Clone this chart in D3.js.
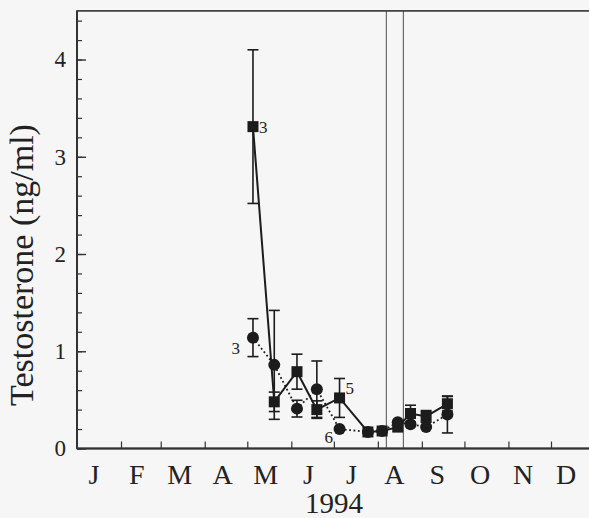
<!DOCTYPE html>
<html>
<head>
<meta charset="utf-8">
<script src="https://cdn.jsdelivr.net/npm/d3@7"></script>
<style>
  html, body { margin: 0; padding: 0; background: #f6f6f6; }
  svg { display: block; }
  svg text { font-family: "Liberation Serif", "Times New Roman", serif; fill: #222; }
</style>
</head>
<body>
<svg id="chart" width="589" height="518"></svg>
<script>
// sampling dates (1994) and testosterone means / errors
const sampleDates = ["1994-05-05", "1994-05-20", "1994-06-05", "1994-06-19", "1994-07-05",
  "1994-07-25", "1994-08-04", "1994-08-15", "1994-08-24", "1994-09-04", "1994-09-19"];
const squareMeans = [3.31, 0.48, 0.79, 0.40, 0.52, 0.17, 0.18, 0.22, 0.36, 0.33, 0.46];
const squareErrs  = [0.79, 0.10, 0.18, 0.09, 0.20, 0, 0, 0, 0.085, 0.06, 0.075];
const circleMeans = [1.14, 0.86, 0.41, 0.61, 0.20, 0.17, 0.18, 0.27, 0.25, 0.22, 0.35];
const circleErrs  = [0.195, 0.56, 0.086, 0.29, 0, 0, 0, 0, 0, 0, 0.19];
const markerDates = ["1994-08-07", "1994-08-19"];
const monthLabels = ["J", "F", "M", "A", "M", "J", "J", "A", "S", "O", "N", "D"];
const yLabelTicks = [0, 1, 2, 3, 4];
const pointLabels = [
  { series: "square", i: 0, text: "3" },
  { series: "circle", i: 0, text: "3" },
  { series: "square", i: 4, text: "5" },
  { series: "circle", i: 4, text: "6" }
];

const ink = "#1c1c1c";
const serif = "Liberation Serif, Times New Roman, serif";
const parse = d3.timeParse("%Y-%m-%d");
const svg = d3.select("#chart");

const x = d3.scaleTime()
  .domain([new Date(1994, 0, 1), new Date(1995, 0, 1)])
  .range([77, 595]);
const y = d3.scaleLinear().domain([0, 4.5]).range([448.5, 10.9]);

const squares = sampleDates.map((d, i) => ({ date: parse(d), v: squareMeans[i], e: squareErrs[i] }));
const circles = sampleDates.map((d, i) => ({ date: parse(d), v: circleMeans[i], e: circleErrs[i] }));

// vertical marker lines
svg.selectAll("line.marker")
  .data(markerDates.map(parse))
  .enter().append("line")
  .attr("x1", d => x(d)).attr("x2", d => x(d))
  .attr("y1", y(4.5)).attr("y2", y(0))
  .style("stroke", "#6a6a6a").style("stroke-width", 1.2);

// error bars
function errorBars(data, cls) {
  const g = svg.append("g").attr("class", cls)
    .selectAll("g").data(data.filter(d => d.e > 0)).enter().append("g");
  g.append("line")
    .attr("x1", d => x(d.date)).attr("x2", d => x(d.date))
    .attr("y1", d => y(d.v - d.e)).attr("y2", d => y(d.v + d.e));
  [-1, 1].forEach(s => {
    g.append("line")
      .attr("x1", d => x(d.date) - 5.5).attr("x2", d => x(d.date) + 5.5)
      .attr("y1", d => y(d.v + s * d.e)).attr("y2", d => y(d.v + s * d.e));
  });
  g.selectAll("line").style("stroke", ink).style("stroke-width", 1.6);
}
errorBars(circles, "circleErr");
errorBars(squares, "squareErr");

const line = d3.line().x(d => x(d.date)).y(d => y(d.v));

svg.append("path").datum(circles)
  .attr("d", line)
  .style("fill", "none").style("stroke", ink)
  .style("stroke-width", 1.8).style("stroke-dasharray", "1.8,2.6");

svg.append("path").datum(squares)
  .attr("d", line)
  .style("fill", "none").style("stroke", ink).style("stroke-width", 2);

svg.selectAll("circle.pt").data(circles).enter().append("circle")
  .attr("class", "pt")
  .attr("cx", d => x(d.date)).attr("cy", d => y(d.v)).attr("r", 6)
  .style("fill", ink);

svg.selectAll("rect.pt").data(squares).enter().append("rect")
  .attr("class", "pt")
  .attr("x", d => x(d.date) - 5.5).attr("y", d => y(d.v) - 5.5)
  .attr("width", 11).attr("height", 11)
  .style("fill", ink);

// small n labels next to points
const labelOffsets = {
  "square0": { dx: 6, dy: 6, anchor: "start" },
  "circle0": { dx: -13, dy: 16, anchor: "end" },
  "square4": { dx: 6, dy: -4, anchor: "start" },
  "circle4": { dx: -6.5, dy: 14, anchor: "end" }
};
svg.selectAll("text.n").data(pointLabels).enter().append("text")
  .attr("class", "n")
  .attr("x", d => {
    const p = (d.series === "square" ? squares : circles)[d.i];
    return x(p.date) + labelOffsets[d.series + d.i].dx;
  })
  .attr("y", d => {
    const p = (d.series === "square" ? squares : circles)[d.i];
    return y(p.v) + labelOffsets[d.series + d.i].dy;
  })
  .attr("text-anchor", d => labelOffsets[d.series + d.i].anchor)
  .attr("font-family", serif)
  .style("font-size", "17px")
  .text(d => d.text);

// y axis: minor and major ticks inside
const yMinor = svg.append("g").attr("transform", "translate(77,0)")
  .call(d3.axisLeft(y).tickValues(d3.range(0, 4.41, 0.2)).tickSize(-5).tickFormat(""));
yMinor.select(".domain").remove();
yMinor.selectAll("line").style("stroke", "#333").style("stroke-width", 1.2);

const yMajor = svg.append("g").attr("transform", "translate(77,0)")
  .call(d3.axisLeft(y).tickValues(yLabelTicks).tickSize(-9).tickPadding(11).tickFormat(d3.format("d")));
yMajor.attr("font-family", serif).attr("font-size", 23);
yMajor.select(".domain").remove();
yMajor.selectAll("line").style("stroke", "#333").style("stroke-width", 1.4);
yMajor.selectAll("text").attr("font-family", serif).style("font-size", "23px").style("fill", "#222");

// x axis: month boundary ticks inside
const xAxis = svg.append("g").attr("transform", `translate(0,${y(0)})`)
  .call(d3.axisBottom(x)
    .tickValues(d3.timeMonth.range(new Date(1994, 1, 1), new Date(1995, 0, 1)))
    .tickSize(-7).tickFormat(""));
xAxis.select(".domain").remove();
xAxis.selectAll("line").style("stroke", "#333").style("stroke-width", 1.2);

const xm = d3.scalePoint().domain(d3.range(12)).range([94, 566]);
svg.selectAll("text.month").data(monthLabels).enter().append("text")
  .attr("class", "month")
  .attr("x", (d, i) => xm(i)).attr("y", 484)
  .attr("text-anchor", "middle")
  .attr("font-family", serif)
  .style("font-size", "28px")
  .text(d => d);

svg.append("text")
  .attr("x", 334).attr("y", 513)
  .attr("text-anchor", "middle")
  .attr("font-family", serif)
  .style("font-size", "29px")
  .text("1994");

svg.append("text")
  .attr("transform", "translate(33,265) rotate(-90)")
  .attr("text-anchor", "middle")
  .attr("font-family", serif)
  .style("font-size", "34px")
  .text("Testosterone (ng/ml)");

// frame
svg.append("rect")
  .attr("x", 77).attr("y", y(4.5))
  .attr("width", x.range()[1] - 77).attr("height", y(0) - y(4.5))
  .style("fill", "none").style("stroke", "#333").style("stroke-width", 1.6);
svg.append("line")
  .attr("x1", 77).attr("x2", x.range()[1]).attr("y1", y(0)).attr("y2", y(0))
  .style("stroke", "#333").style("stroke-width", 2.2);
svg.append("line")
  .attr("x1", 77).attr("x2", 77).attr("y1", y(4.5)).attr("y2", y(0))
  .style("stroke", "#333").style("stroke-width", 2);
</script>
</body>
</html>
